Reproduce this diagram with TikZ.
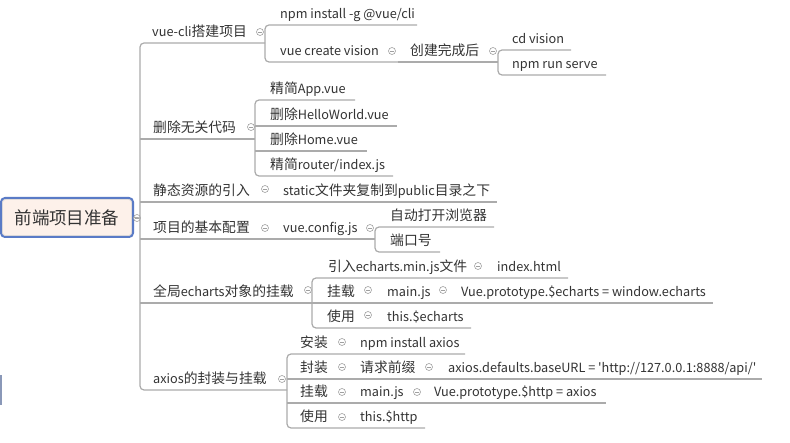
\documentclass[tikz,border=0pt]{standalone}
\usepackage{fontspec}
\newfontfamily\cjk{Noto Sans CJK SC}
\definecolor{txt}{HTML}{333333}
\definecolor{lncol}{HTML}{ABABAB}
\definecolor{clcol}{HTML}{A0A0A0}
\definecolor{rootfill}{HTML}{FDF1EA}
\definecolor{rootblue}{HTML}{5A7BC6}
\definecolor{fragblue}{HTML}{8A98B8}
\newcommand\tfont{\cjk\fontsize{13.8}{14}\selectfont}
\newcommand\rfont{\cjk\fontsize{17.5}{18}\selectfont}
\newcommand\lt[1]{{\fontsize{12.7}{14}\selectfont #1}}
\tikzset{
  topic/.style={anchor=base west, inner sep=0pt, font=\tfont, text=txt},
  ln/.style={draw=lncol, line width=1.2pt},
  brk/.style={ln, rounded corners=4pt},
  clps/.style={circle, draw=clcol, line width=0.6pt, minimum size=7pt, inner sep=0pt,
    path picture={\draw[clcol, line width=0.6pt]
      ([xshift=-2pt]path picture bounding box.center) -- ([xshift=2pt]path picture bounding box.center);}},
  rootbox/.style={draw=rootblue, line width=2pt, fill=rootfill, rounded corners=4pt,
    minimum width=132pt, minimum height=39pt, inner sep=0pt, font=\rfont, text=txt},
}
\begin{document}
\begin{tikzpicture}[x=1pt,y=-1pt]
\useasboundingbox[fill=white] (0,0) rectangle (790,443);

% fragment at bottom left
\fill[fragblue] (0,375) rectangle (2,405);

% ---------- root ----------
\node[rootbox] (root) at (67,217.5) {前端项目准备};
\draw[draw=gray!35, line width=0.5pt, rounded corners=3pt] (2.5,199.5) rectangle (131.5,235.5);
\coordinate (jR) at (140,218);
\node[clps, fill=white] (cR) at (137,218) {};
\draw[ln] (root.east) -- (jR);

% ---------- level 1 ----------
\node[topic] (A) at (152,37) {\lt{vue-cli}搭建项目};
\node[topic] (B) at (153,133) {删除无关代码};
\node[topic] (C) at (153,196) {静态资源的引入};
\node[topic] (D) at (153,233) {项目的基本配置};
\node[topic] (E) at (153,297) {全局\lt{echarts}对象的挂载};
\node[topic] (F) at (153,384) {\lt{axios}的封装与挂载};

\node[clps] (cA) at (260,32) {};
\node[clps] (cB) at (251,127) {};
\node[clps] (cC) at (265,189) {};
\node[clps] (cD) at (265,228) {};
\node[clps] (cE) at (308,290) {};
\node[clps] (cF) at (282,379) {};

\coordinate (Ae) at (265,43);
\coordinate (Be) at (255,139);
\coordinate (Ce) at (270,202);
\coordinate (De) at (375,239);
\coordinate (Ee) at (312,303);
\coordinate (Fe) at (287,390);

\draw[brk] (Ae) -- (Ae -| jR) -- (Fe -| jR) -- (Fe);
\draw[ln] (Be -| jR) -- (Be);
\draw[ln] (Ce -| jR) -- (Ce);
\draw[ln] (De -| jR) -- (De);
\draw[ln] (Ee -| jR) -- (Ee);

% ---------- vue-cli ----------
\node[topic] (A1) at (280,19) {\lt{npm install -g @vue/cli}};
\node[topic] (A2) at (280,56) {\lt{vue create vision}};
\node[clps] (cA2) at (392,51) {};
\node[topic] (A2a) at (410,56) {创建完成后};
\node[clps] (cA2a) at (493,51) {};
\node[topic] (A2a1) at (512,44) {\lt{cd vision}};
\node[topic] (A2a2) at (512,69) {\lt{npm run serve}};
\coordinate (A1e) at (417,25);
\coordinate (A2e) at (398,62);
\coordinate (A2ae) at (498,62);
\coordinate (A2a1e) at (571,50);
\coordinate (A2a2e) at (606,75);
\draw[brk] (A1e) -- (A1e -| Ae) -- (A2e -| Ae) -- (A2e);
\draw[ln] (A2e) -- (A2ae);
\draw[brk] (A2a1e) -- (A2a1e -| A2ae) -- (A2a2e -| A2ae) -- (A2a2e);

% ---------- 删除无关代码 ----------
\node[topic] (B1) at (270,94) {精简\lt{App.vue}};
\node[topic] (B2) at (270,120) {删除\lt{HelloWorld.vue}};
\node[topic] (B3) at (270,145) {删除\lt{Home.vue}};
\node[topic] (B4) at (270,170) {精简\lt{router/index.js}};
\coordinate (B1e) at (355,100);
\coordinate (B2e) at (397,126);
\coordinate (B3e) at (367,151);
\coordinate (B4e) at (393,176);
\draw[brk] (B1e) -- (B1e -| Be) -- (B4e -| Be) -- (B4e);
\draw[ln] (B2e -| Be) -- (B2e);
\draw[ln] (B3e -| Be) -- (B3e);

% ---------- 静态资源 ----------
\node[topic] (C1) at (283,196) {\lt{static}文件夹复制到\lt{public}目录之下};
\coordinate (C1e) at (497,202);
\draw[ln] (Ce) -- (C1e);

% ---------- 基本配置 ----------
\node[topic] (D1) at (283,233) {\lt{vue.config.js}};
\node[clps] (cD1) at (370,228) {};
\node[topic] (D1a) at (390,221) {自动打开浏览器};
\node[topic] (D1b) at (390,246) {端口号};
\coordinate (D1ae) at (494,227);
\coordinate (D1be) at (440,252);
\draw[brk] (D1ae) -- (D1ae -| De) -- (D1be -| De) -- (D1be);

% ---------- echarts ----------
\node[topic] (E1) at (328,272) {引入\lt{echarts.min.js}文件};
\node[clps] (cE1) at (478,266) {};
\node[topic] (E1a) at (497,272) {\lt{index.html}};
\node[topic] (E2) at (327,297) {挂载};
\node[clps] (cE2) at (368,290) {};
\node[topic] (E2a) at (387,297) {\lt{main.js}};
\node[clps] (cE2a) at (443,290) {};
\node[topic] (E2b) at (461,297) {\lt{Vue.prototype.\$echarts = window.echarts}};
\node[topic] (E3) at (327,322) {使用};
\node[clps] (cE3) at (368,315) {};
\node[topic] (E3a) at (387,322) {\lt{this.\$echarts}};
\coordinate (E1e) at (568,278);
\coordinate (E2e) at (713,303);
\coordinate (E3e) at (471,328);
\draw[brk] (E1e) -- (E1e -| Ee) -- (E3e -| Ee) -- (E3e);
\draw[ln] (E2e -| Ee) -- (E2e);

% ---------- axios ----------
\node[topic] (F1) at (300,348) {安装};
\node[clps] (cF1) at (342,342) {};
\node[topic] (F1a) at (360,348) {\lt{npm install axios}};
\node[topic] (F2) at (300,373) {封装};
\node[clps] (cF2) at (342,367) {};
\node[topic] (F2a) at (360,373) {请求前缀};
\node[clps] (cF2a) at (429,367) {};
\node[topic] (F2b) at (448,373) {\lt{axios.defaults.baseURL = 'http://127.0.0.1:8888/api/'}};
\node[topic] (F3) at (300,397) {挂载};
\node[clps] (cF3) at (342,392) {};
\node[topic] (F3a) at (360,397) {\lt{main.js}};
\node[clps] (cF3a) at (417,392) {};
\node[topic] (F3b) at (434,397) {\lt{Vue.prototype.\$http = axios}};
\node[topic] (F4) at (300,422) {使用};
\node[clps] (cF4) at (342,417) {};
\node[topic] (F4a) at (360,422) {\lt{this.\$http}};
\coordinate (F1e) at (465,354);
\coordinate (F2e) at (762,379);
\coordinate (F3e) at (606,403);
\coordinate (F4e) at (425,428);
\draw[brk] (F1e) -- (F1e -| Fe) -- (F4e -| Fe) -- (F4e);
\draw[ln] (F2e -| Fe) -- (F2e);
\draw[ln] (F3e -| Fe) -- (F3e);
\end{tikzpicture}
\end{document}
